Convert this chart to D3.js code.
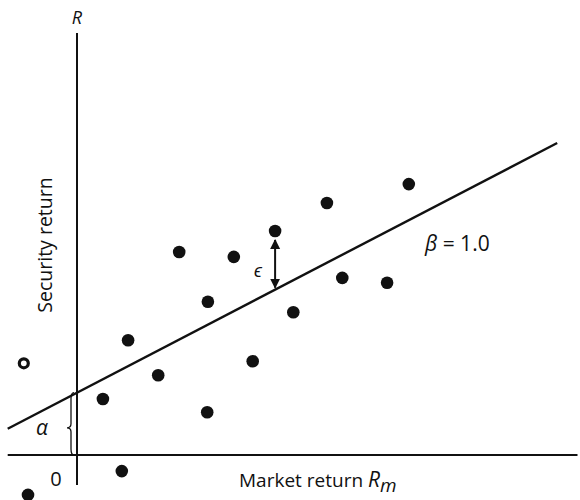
<!DOCTYPE html>
<html>
<head>
<meta charset="UTF-8">
<script src="https://d3js.org/d3.v7.min.js"></script>
<style>
  body { margin: 0; background: #fff; }
  text { font-family: "Open Sans", sans-serif; fill: #111; }
</style>
</head>
<body>
<svg id="chart" width="580" height="500"></svg>
<script>
// data points (market return, security return)
const marketReturn = [2.83, 1.46, 2.24, 1.87, 3.09, 0.73, 2.51, 1.16, 0.37, 1.86, 3.57, 3.79, 4.43, 4.74, 0.64, -0.70];
const securityReturn = [3.20, 2.90, 2.83, 2.19, 2.04, 1.64, 1.34, 1.14, 0.80, 0.61, 3.60, 2.53, 2.46, 3.87, -0.23, -0.57];
// one open point left of the axis
const openX = [-0.76];
const openY = [1.31];

// fitted line
const alpha = 0.89;
const slope = 0.52;
const lineX = [-0.99, 6.86];

// epsilon marked at this point
const epsIndex = 0;

const svg = d3.select('#chart');

const x = d3.scaleLinear().domain([-1, 7]).range([7, 567]);
const y = d3.scaleLinear().domain([-1, 6]).range([525, 35]);

// axes
svg.append('line')
    .attr('x1', x(-0.99)).attr('x2', x(7.15))
    .attr('y1', y(0)).attr('y2', y(0))
    .attr('stroke', '#111').attr('stroke-width', 2);
svg.append('line')
    .attr('x1', x(0)).attr('x2', x(0))
    .attr('y1', y(6.03)).attr('y2', y(-0.43))
    .attr('stroke', '#111').attr('stroke-width', 2);

// regression line
svg.append('line')
    .attr('x1', x(lineX[0])).attr('y1', y(alpha + slope * lineX[0]))
    .attr('x2', x(lineX[1])).attr('y2', y(alpha + slope * lineX[1]))
    .attr('stroke', '#111').attr('stroke-width', 2.4);

// points
const pts = marketReturn.map((d, i) => ({ x: d, y: securityReturn[i] }));
svg.selectAll('circle.pt')
    .data(pts)
    .join('circle')
    .attr('class', 'pt')
    .attr('cx', d => x(d.x))
    .attr('cy', d => y(d.y))
    .attr('r', 6.3)
    .style('fill', '#111');

svg.selectAll('circle.open')
    .data(openX)
    .join('circle')
    .attr('class', 'open')
    .attr('cx', d => x(d))
    .attr('cy', (d, i) => y(openY[i]))
    .attr('r', 4.5)
    .style('fill', '#fff')
    .style('stroke', '#111')
    .style('stroke-width', 3.2);

// epsilon arrow
const defs = svg.append('defs');
defs.append('marker')
    .attr('id', 'head')
    .attr('viewBox', '0 0 10 10')
    .attr('refX', 9).attr('refY', 5)
    .attr('markerWidth', 5).attr('markerHeight', 6)
    .attr('orient', 'auto-start-reverse')
    .append('path')
    .attr('d', 'M0,0 L10,5 L0,10 Z')
    .attr('fill', '#111');

const ep = pts[epsIndex];
svg.append('line')
    .attr('x1', x(ep.x)).attr('x2', x(ep.x))
    .attr('y1', y(ep.y) + 9)
    .attr('y2', y(alpha + slope * ep.x) - 2)
    .attr('stroke', '#111').attr('stroke-width', 2)
    .attr('marker-start', 'url(#head)')
    .attr('marker-end', 'url(#head)');

svg.append('text')
    .attr('x', x(ep.x) - 21).attr('y', y(ep.y) + 46)
    .style('font-size', '18px').style('font-style', 'italic')
    .text('ϵ');

// alpha brace
const bx = x(0) - 5, by0 = y(alpha), by1 = y(0);
const bm = (by0 + by1) / 2 + 4;
svg.append('path')
    .attr('d', `M${bx + 2},${by0} Q${bx - 1},${by0} ${bx - 1},${by0 + 6} L${bx - 1},${bm - 4} Q${bx - 1},${bm} ${bx - 5},${bm} Q${bx - 1},${bm} ${bx - 1},${bm + 4} L${bx - 1},${by1 - 6} Q${bx - 1},${by1} ${bx + 2},${by1}`)
    .attr('fill', 'none').attr('stroke', '#111').attr('stroke-width', 1.3);

svg.append('text')
    .attr('x', 42).attr('y', bm + 7)
    .attr('text-anchor', 'middle')
    .style('font-size', '21px').style('font-style', 'italic')
    .text('α');

// labels
svg.append('text')
    .attr('x', x(0)).attr('y', 24)
    .attr('text-anchor', 'middle')
    .style('font-size', '18px').style('font-style', 'italic')
    .text('R');

svg.append('text')
    .attr('transform', 'translate(52,245) rotate(-90)')
    .attr('text-anchor', 'middle')
    .style('font-size', '19.5px')
    .text('Security return');

svg.append('text')
    .attr('x', 56).attr('y', 486)
    .attr('text-anchor', 'middle')
    .style('font-size', '20px')
    .text('0');

const xl = svg.append('text')
    .attr('x', 239).attr('y', 487)
    .style('font-size', '19px');
xl.append('tspan').text('Market return ');
xl.append('tspan').style('font-style', 'italic').style('font-size', '21px').text('R');
xl.append('tspan').style('font-style', 'italic').style('font-size', '19px').attr('dy', 5).text('m');

svg.append('text')
    .attr('x', 425).attr('y', 251)
    .style('font-size', '21px')
    .html('<tspan font-style="italic">β</tspan> = 1.0');
</script>
</body>
</html>
